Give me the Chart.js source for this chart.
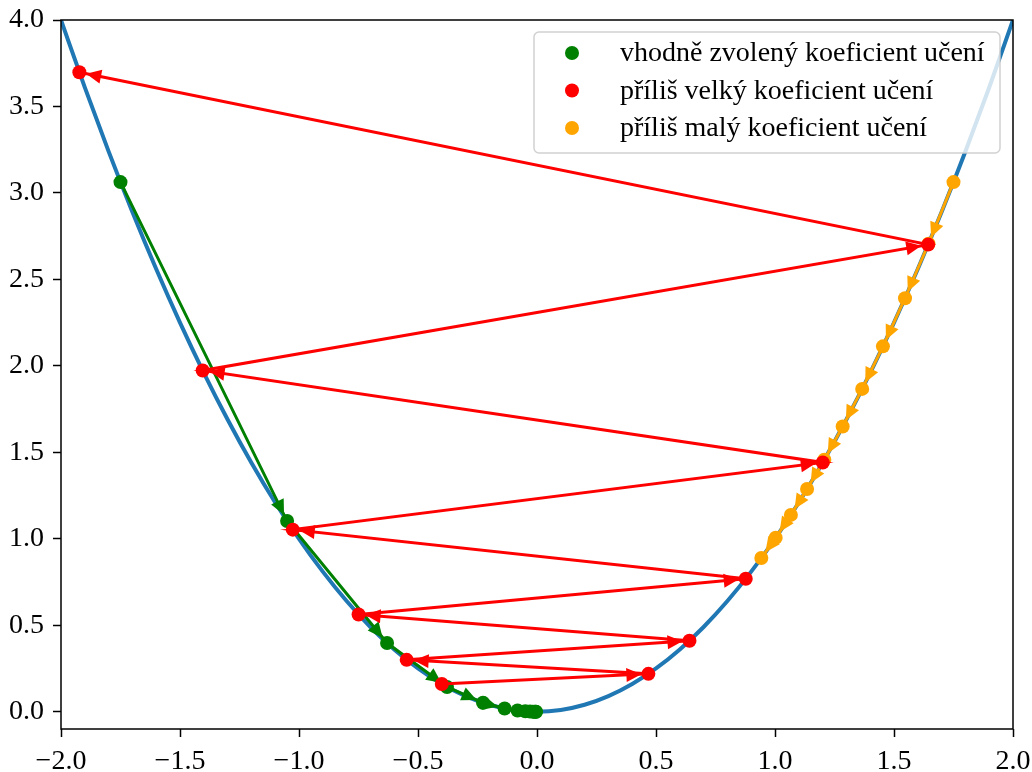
<!DOCTYPE html>
<html>
<head>
<meta charset="utf-8">
<script src="https://cdn.jsdelivr.net/npm/chart.js@4.4.0/dist/chart.umd.min.js"></script>
<style>
  html, body { margin: 0; padding: 0; background: #fff; }
</style>
</head>
<body>
<canvas id="gd" width="1032" height="772"></canvas>
<script>
// ── DATA ────────────────────────────────────────────────────
const curveX = [-2.0, -1.9, -1.8, -1.7, -1.6, -1.5, -1.4, -1.3, -1.2, -1.1, -1.0, -0.9, -0.8, -0.7, -0.6, -0.5, -0.4, -0.3, -0.2, -0.1,
  0.0, 0.1, 0.2, 0.3, 0.4, 0.5, 0.6, 0.7, 0.8, 0.9, 1.0, 1.1, 1.2, 1.3, 1.4, 1.5, 1.6, 1.7, 1.8, 1.9, 2.0]
const curveY = [4.0, 3.61, 3.24, 2.89, 2.56, 2.25, 1.96, 1.69, 1.44, 1.21, 1.0, 0.81, 0.64, 0.49, 0.36, 0.25, 0.16, 0.09, 0.04, 0.01,
  0.0, 0.01, 0.04, 0.09, 0.16, 0.25, 0.36, 0.49, 0.64, 0.81, 1.0, 1.21, 1.44, 1.69, 1.96, 2.25, 2.56, 2.89, 3.24, 3.61, 4.0]

const goodX = [-1.75, -1.05, -0.63, -0.378, -0.2268, -0.1361, -0.0816, -0.049, -0.0294, -0.0176, -0.0106, -0.0063, -0.0038]
const goodY = [3.0625, 1.1025, 0.3969, 0.1429, 0.0514, 0.0185, 0.0067, 0.0024, 0.0009, 0.0003, 0.0001, 0.00004, 0.00001]

const bigX = [-0.4, 0.468, -0.5476, 0.6407, -0.7496, 0.877, -1.0261, 1.2006, -1.4047, 1.6435, -1.9229]
const bigY = [0.16, 0.219, 0.2999, 0.4105, 0.5619, 0.7692, 1.0529, 1.4414, 1.9732, 2.7011, 3.6975]

const smallX = [1.75, 1.645, 1.5463, 1.4535, 1.3663, 1.2843, 1.2073, 1.1348, 1.0668, 1.0028, 0.9426]
const smallY = [3.0625, 2.706, 2.391, 2.1127, 1.8668, 1.6495, 1.4575, 1.2878, 1.138, 1.0056, 0.8885]

const seriesLabels = ['vhodně zvolený koeficient učení', 'příliš velký koeficient učení', 'příliš malý koeficient učení']

const xTickVals = [-2.0, -1.5, -1.0, -0.5, 0.0, 0.5, 1.0, 1.5, 2.0]
const xTickLabels = ['−2.0', '−1.5', '−1.0', '−0.5', '0.0', '0.5', '1.0', '1.5', '2.0']
const yTickVals = [0.0, 0.5, 1.0, 1.5, 2.0, 2.5, 3.0, 3.5, 4.0]
const yTickLabels = ['0.0', '0.5', '1.0', '1.5', '2.0', '2.5', '3.0', '3.5', '4.0']

const FONT = '"Liberation Serif", "DejaVu Serif", serif'
const FSIZE = 28

const toPts = (xs, ys) => xs.map((x, i) => ({ x, y: ys[i] }))

// ── PLUGINS ─────────────────────────────────────────────────
// arrow heads at the end of each step
const arrowHeads = {
  id: 'arrowHeads',
  afterDatasetDraw(chart, args) {
    const ds = chart.data.datasets[args.index]
    if (!ds.arrows) return
    const pts = args.meta.data
    const ctx = chart.ctx
    const area = chart.chartArea
    ctx.save()
    ctx.beginPath()
    ctx.rect(area.left, area.top, area.right - area.left, area.bottom - area.top)
    ctx.clip()
    ctx.fillStyle = ds.borderColor
    for (let i = 1; i < pts.length; i++) {
      const a = pts[i - 1], b = pts[i]
      const dx = b.x - a.x, dy = b.y - a.y
      const len = Math.hypot(dx, dy)
      if (len < 20) continue
      const ux = dx / len, uy = dy / len
      const tx = b.x - ux * 7, ty = b.y - uy * 7
      const bx = tx - ux * 15, by = ty - uy * 15
      ctx.beginPath()
      ctx.moveTo(tx, ty)
      ctx.lineTo(bx - uy * 7, by + ux * 7)
      ctx.lineTo(bx + uy * 7, by - ux * 7)
      ctx.closePath()
      ctx.fill()
    }
    ctx.restore()
  }
}

// frame on all four sides + legend inside the plot
const frameLegend = {
  id: 'frameLegend',
  afterDraw(chart) {
    const ctx = chart.ctx
    const a = chart.chartArea
    ctx.save()
    ctx.strokeStyle = '#000'
    ctx.lineWidth = 1.5
    ctx.strokeRect(a.left, a.top, a.right - a.left, a.bottom - a.top)

    // legend box
    const lx = 534, ly = 32, lw = 466, lh = 121, r = 5
    ctx.beginPath()
    ctx.moveTo(lx + r, ly)
    ctx.arcTo(lx + lw, ly, lx + lw, ly + lh, r)
    ctx.arcTo(lx + lw, ly + lh, lx, ly + lh, r)
    ctx.arcTo(lx, ly + lh, lx, ly, r)
    ctx.arcTo(lx, ly, lx + lw, ly, r)
    ctx.closePath()
    ctx.fillStyle = 'rgba(255,255,255,0.8)'
    ctx.fill()
    ctx.strokeStyle = 'rgba(204,204,204,0.9)'
    ctx.lineWidth = 1.5
    ctx.stroke()

    const entries = [1, 3, 2]
    ctx.font = `${FSIZE}px ${FONT}`
    ctx.textBaseline = 'middle'
    ctx.textAlign = 'left'
    entries.forEach((di, k) => {
      const ds = chart.data.datasets[di]
      const cy = 53 + k * 37.5
      ctx.beginPath()
      ctx.arc(572, cy, 7, 0, Math.PI * 2)
      ctx.fillStyle = ds.backgroundColor
      ctx.fill()
      ctx.fillStyle = '#000'
      ctx.fillText(ds.label, 620, cy + 1)
    })
    ctx.restore()
  }
}

// ── CHART ───────────────────────────────────────────────────
Chart.defaults.color = '#000'
Chart.defaults.font.family = FONT
Chart.defaults.font.size = FSIZE

const stepSet = (label, xs, ys, color, order) => ({
  label,
  data: toPts(xs, ys),
  showLine: true,
  borderColor: color,
  backgroundColor: color,
  borderWidth: 3,
  pointRadius: 7,
  pointBorderWidth: 0,
  pointHoverRadius: 7,
  arrows: true,
  order
})

const ctx = document.getElementById('gd').getContext('2d')
new Chart(ctx, {
  type: 'scatter',
  data: {
    datasets: [
      {
        label: 'x^2',
        data: toPts(curveX, curveY),
        showLine: true,
        borderColor: '#1f77b4',
        borderWidth: 4,
        pointRadius: 0,
        cubicInterpolationMode: 'monotone',
        order: 4
      },
      stepSet(seriesLabels[0], goodX, goodY, '#008000', 3),
      stepSet(seriesLabels[2], smallX, smallY, '#ffa500', 2),
      stepSet(seriesLabels[1], bigX, bigY, '#ff0000', 1)
    ]
  },
  options: {
    responsive: false,
    animation: false,
    layout: { padding: { top: 20, right: 19, left: 0, bottom: 0 } },
    plugins: {
      legend: { display: false },
      tooltip: { enabled: false }
    },
    scales: {
      x: {
        type: 'linear',
        min: -2.0,
        max: 2.0,
        afterBuildTicks: s => { s.ticks = xTickVals.map(v => ({ value: v })) },
        afterFit: s => { s.height = 43; s.paddingLeft = 0; s.paddingRight = 0 },
        ticks: {
          callback: (v, i) => xTickLabels[i],
          maxRotation: 0,
          padding: 8
        },
        grid: { drawOnChartArea: false, drawTicks: true, tickLength: 8, tickColor: '#000', tickWidth: 1.5 },
        border: { display: false }
      },
      y: {
        type: 'linear',
        min: -0.1,
        max: 4.0,
        afterBuildTicks: s => { s.ticks = yTickVals.map(v => ({ value: v })) },
        afterFit: s => { s.width = 61; s.paddingTop = 0; s.paddingBottom = 0 },
        ticks: {
          callback: (v, i) => yTickLabels[i],
          padding: 9
        },
        grid: { drawOnChartArea: false, drawTicks: true, tickLength: 8, tickColor: '#000', tickWidth: 1.5 },
        border: { display: false }
      }
    }
  },
  plugins: [arrowHeads, frameLegend]
})
</script>
</body>
</html>
